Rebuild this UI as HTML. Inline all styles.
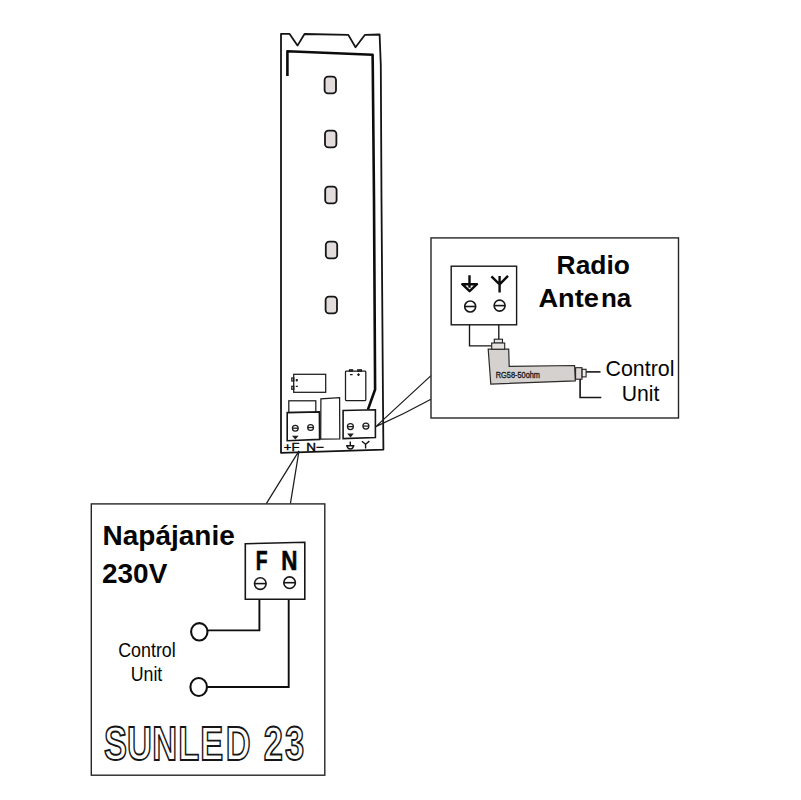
<!DOCTYPE html>
<html lang="sk">
<head>
<meta charset="utf-8">
<title>SUNLED 23</title>
<style>
html,body{margin:0;padding:0;background:#fff;}
body{width:801px;height:800px;overflow:hidden;}
svg{display:block;}
text{font-family:"Liberation Sans",sans-serif;fill:#050505;}
.b{font-weight:bold;}
.ln{fill:none;stroke:#161616;stroke-width:1.6;stroke-linejoin:miter;}
.thin{fill:none;stroke:#1c1c1c;stroke-width:1.25;}
.box{fill:#fff;stroke:#262626;stroke-width:1.4;}
</style>
</head>
<body>
<svg width="801" height="800" viewBox="0 0 801 800">
<rect width="801" height="800" fill="#fff"/>

<!-- ===== main board ===== -->
<g id="board">
<path d="M281 452.8 L281 33.9 L289.6 33.9 L297.5 45.6 L304.5 34 L348.3 34.9 L355.5 47.2 L365 34.8 L379.6 34.5 L380.8 65 L381.5 200 L382.9 390 L383.4 449.6 Z" fill="none" stroke="#141414" stroke-width="1.8" stroke-linejoin="round"/>
<path d="M287.4 76 L287.4 51.2 L372.6 54.8 L372.75 65 L374 200 L375.1 389.5 L367.9 409.6" fill="none" stroke="#0c0c0c" stroke-width="2.6" stroke-linejoin="round"/>
<!-- leds -->
<g fill="#e2dcdc" stroke="#161616" stroke-width="1.8">
<rect x="324.6" y="76.6" width="11.4" height="16.8" rx="3.4"/>
<rect x="325" y="130.6" width="11.4" height="16.8" rx="3.4"/>
<rect x="325.2" y="186.6" width="11.4" height="16.8" rx="3.4"/>
<rect x="325.8" y="241.6" width="11.4" height="16.8" rx="3.4"/>
<rect x="325.6" y="296.6" width="11.4" height="16.8" rx="3.4"/>
</g>
<!-- components -->
<g class="thin">
<rect x="293.7" y="374.3" width="32" height="18"/>
<rect x="291.8" y="378" width="2" height="3"/>
<rect x="291.8" y="386.3" width="2" height="3"/>
<path d="M295.6 380.2h2.4M296.8 379v2.4M295.8 386.3h2"/>
<rect x="345.500" y="371.1" width="20.300" height="29.5" rx="0.8"/>
<rect x="349.500" y="369.8" width="3" height="1.400"/>
<rect x="357.800" y="369.8" width="3.600" height="1.400"/>
<path d="M350 374.6h2.600M357.200 374.6h2.600M358.500 373.3v2.600"/>
<rect x="288.8" y="400.8" width="27" height="11.7"/>
<path d="M320.7 439.2 L320.9 398.8 L339.6 397.6 L339.8 438.9 Z"/>
</g>
<g class="ln">
<path d="M287.2 412.6 L319.4 411.9 L319.6 439.4 L287.2 440.7 Z" fill="#fff"/>
<path d="M343.1 410.5 L375.4 409.8 L375.4 437.5 L343.1 438.6 Z" fill="#fff"/>
</g>
<g class="thin">
<circle cx="295.3" cy="428.2" r="2.9"/><path d="M292.4 428.2h5.8"/>
<circle cx="310.6" cy="427.5" r="2.9"/><path d="M307.7 427.5h5.8"/>
<circle cx="350.4" cy="426.6" r="3"/><path d="M347.4 426.6h6"/>
<circle cx="365.9" cy="426.1" r="3"/><path d="M362.9 426.1h6"/>
<path d="M293.3 436.3h4l-2 2.3z" fill="#222"/>
<path d="M348.5 434.2h4l-2 2.4z" fill="#222"/>
</g>
<!-- ground + antenna small -->
<g fill="none" stroke="#141414" stroke-width="1.4">
<path d="M350.3 441.6v4.2M346.1 445.8h8.3M347 446c.6 2 2 3 3.300 3 1.300 0 2.700 -1 3.300 -3"/>
<path d="M365.6 448.5v-4.300M365.600 444.200l-3.700 -3M365.600 444.200l3.800 -3.100"/>
</g>
<text x="283.8" y="451" font-size="11" textLength="15.600" lengthAdjust="spacingAndGlyphs" style="stroke:#050505;stroke-width:.4">+F</text>
<text x="306.3" y="450.6" font-size="11" textLength="17.600" lengthAdjust="spacingAndGlyphs" style="stroke:#050505;stroke-width:.4">N−</text>
</g>

<!-- pointer lines -->
<path class="thin" d="M375.8 426.6 L431 375.6 M375.8 426.6 Q404 414 431 399.2"/>
<path class="thin" d="M299 450.8 L266.300 503.700 M299 450.800 L290.400 503.700"/>

<!-- ===== right box : radio antenna ===== -->
<g id="radio">
<rect class="box" x="431" y="237.9" width="247.5" height="180.1"/>
<rect class="ln" x="451.2" y="266.2" width="65.4" height="58.600" fill="#fff" style="stroke-width:1.4"/>
<g fill="none" stroke="#0c0c0c" stroke-width="2.4" stroke-linejoin="round">
<path d="M469.5 275.2v12.6M462.2 284.2h14.8l-7.4 7z"/>
<path d="M499.6 275.9v16.6M499.6 284.3l-8.2-7.9M499.6 284.3l8.4-8.4"/>
</g>
<g class="ln">
<circle cx="470.2" cy="306.5" r="5.500"/><path d="M464.7 306.5h11"/>
<circle cx="499.6" cy="305.6" r="5.500"/><path d="M494.1 305.6h11"/>
<path d="M469.5 324.8V345.9H491.7" style="stroke-width:1.35"/>
<path d="M498.8 324.8V339.4" style="stroke-width:1.35"/>
</g>
<!-- cable -->
<path d="M488.2 349.2 L508.7 349.2 L509.2 366.3 L574.6 365.5 L575.3 380.9 L490.8 384.1 Z" fill="#d5d1ce" stroke="#2a2a2a" stroke-width="1.2"/>
<rect x="494.3" y="339.2" width="8.2" height="4" fill="#e6e3e1" stroke="#222" stroke-width="1.1"/>
<rect x="491.7" y="343" width="13" height="6.2" fill="#e6e3e1" stroke="#222" stroke-width="1.1"/>
<rect x="575.6" y="367.7" width="6.4" height="11.5" fill="#ddd8d6" stroke="#222" stroke-width="1.1"/>
<rect x="582.1" y="369.3" width="4" height="7.6" fill="#eee" stroke="#222" stroke-width="1.1"/>
<path class="ln" d="M586.2 371.9H600.5"/>
<path class="ln" d="M580.1 379.2V397.5H601.3"/>
<text x="495.8" y="378.2" font-size="8.2" textLength="44.2" lengthAdjust="spacingAndGlyphs" style="fill:#141414;stroke:#141414;stroke-width:.3">RG58-50ohm</text>
<text class="b" x="556.6" y="274" font-size="26" textLength="73.3" lengthAdjust="spacingAndGlyphs">Radio</text>
<text class="b" x="538.4" y="307.3" font-size="26" textLength="60.5" lengthAdjust="spacingAndGlyphs">Ante</text>
<text class="b" x="601" y="307.3" font-size="26" textLength="30.3" lengthAdjust="spacingAndGlyphs">na</text>
<text x="605.5" y="375.5" font-size="21.3" textLength="69" lengthAdjust="spacingAndGlyphs">Control</text>
<text x="621.7" y="401.4" font-size="21.3" textLength="37.7" lengthAdjust="spacingAndGlyphs">Unit</text>
</g>

<!-- ===== bottom-left box : power ===== -->
<g id="power">
<rect class="box" x="91.3" y="503.9" width="233.5" height="271.3"/>
<text class="b" x="102.6" y="544.6" font-size="27.5" textLength="132.2" lengthAdjust="spacingAndGlyphs">Napájanie</text>
<text class="b" x="102" y="583.4" font-size="27.5" textLength="65.3" lengthAdjust="spacingAndGlyphs">230V</text>
<path class="ln" d="M245.3 543.8 L304.8 542.2 L304.8 599.2 L245.3 599.2 Z" fill="#fff"/>
<text class="b" x="255.7" y="570.2" font-size="28.3" textLength="11.8" lengthAdjust="spacingAndGlyphs" style="stroke:#050505;stroke-width:.6">F</text>
<text class="b" x="281.3" y="570.2" font-size="28.3" textLength="16.2" lengthAdjust="spacingAndGlyphs" style="stroke:#050505;stroke-width:.6">N</text>
<g class="ln">
<circle cx="260.3" cy="583.6" r="5.800"/><path d="M254.5 583.6h11.600"/>
<circle cx="289.6" cy="582.7" r="5.800"/><path d="M283.8 582.7h11.600"/>
</g>
<g fill="none" stroke="#0e0e0e" stroke-width="1.9">
<path d="M259.4 599.4V630.4H208"/>
<path d="M288.7 599.4V687H207.6"/>
<ellipse cx="199.3" cy="631.8" rx="8.200" ry="8.700" stroke-width="2.1"/>
<ellipse cx="198.7" cy="687" rx="8.300" ry="9" stroke-width="2.1"/>
</g>
<text x="118.2" y="656.7" font-size="19.8" textLength="57.6" lengthAdjust="spacingAndGlyphs" fill="#222">Control</text>
<text x="130.7" y="681" font-size="19.8" textLength="31.6" lengthAdjust="spacingAndGlyphs" fill="#222">Unit</text>
<g transform="translate(103.9 760.3) scale(0.71 1)"><text class="b" x="0 32.7 68.2 104.7 135.7 171.6 207 225.3 255.2" y="0" font-size="48.5" style="fill:#fff;stroke:#161616;stroke-width:1.9;">SUNLED 23</text></g>
</g>
</svg>
</body>
</html>
